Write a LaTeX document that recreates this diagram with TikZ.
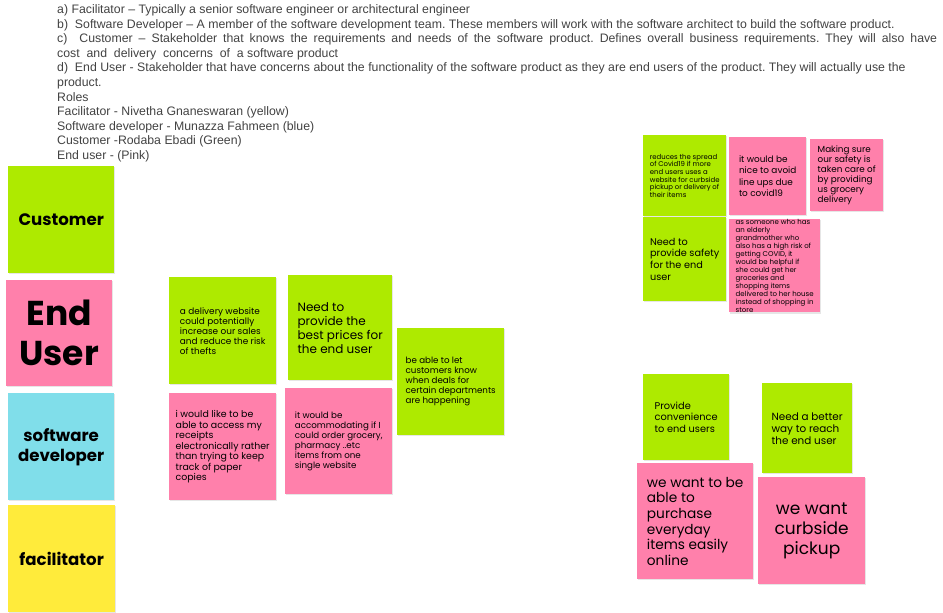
\documentclass[tikz,border=0pt]{standalone}
\usepackage{fontspec}
\setmainfont{Poppins}
\newfontfamily\toptext{Liberation Sans}
\usetikzlibrary{shadows}
\definecolor{notegreen}{HTML}{AEEA00}
\definecolor{notepink}{HTML}{FF80AB}
\definecolor{noteblue}{HTML}{80DEEA}
\definecolor{noteyellow}{HTML}{FFEB3B}
\definecolor{txtgray}{HTML}{424242}
\frenchspacing
\begin{document}
\begin{tikzpicture}[x=1pt, y=-1pt, line join=round,
    note/.style={fill=#1, anchor=north west, inner sep=0pt, align=left,
      drop shadow={shadow xshift=0.6pt, shadow yshift=-1.2pt, opacity=0.2}},
    wh/.style 2 args={minimum width=#1, minimum height=#2},
    fs/.style 2 args={font=\fontsize{#1}{#2}\selectfont},
    bfs/.style 2 args={font=\bfseries\fontsize{#1}{#2}\selectfont}]
  \useasboundingbox (0,0) rectangle (943,613);
  % roles text
  \foreach \t [count=\i] in {a) Facilitator – Typically a senior software engineer or architectural engineer,
      b)\ \ Software Developer – A member of the software development team. These members will work with the software architect to build the software product.,
      {\makebox[880pt][s]{c)\ \ Customer – Stakeholder that knows the requirements and needs of the software product. Defines overall business requirements. They will also have}},
      cost\ \ and\ \ delivery\ \ concerns\ \ of\ \ a software product,
      d)\ \ End User - Stakeholder that have concerns about the functionality of the software product as they are end users of the product. They will actually use the,
      product., Roles, Facilitator - Nivetha Gnaneswaran (yellow), Software developer - Munazza Fahmeen (blue),
      Customer -Rodaba Ebadi (Green), End user - (Pink)}
    \node[anchor=base west, inner sep=0pt, text=txtgray, font=\toptext\fontsize{12.3}{14}\selectfont] (l\i) at (57,{13.5+14.6*(\i-1)}) {\t};
  % role labels
  \node[note=notegreen, wh={106}{107}, align=center, bfs={16.6}{18}] (cust) at (8,166) {Customer};
  \node[note=notepink, wh={106}{106}, align=center, bfs={34.5}{40}] (enduser) at (6,280) {End\\User};
  \node[note=noteblue, wh={106}{107}, align=center, bfs={16.6}{20}] (swdev) at (8,393) {software\\developer};
  \node[note=noteyellow, wh={107}{107}, align=center, bfs={16.6}{18}] (facil) at (8,505) {facilitator};
  % middle group
  \node[note=notegreen, wh={107}{107}, fs={8.9}{10}] (gsales) at (169,277) {a delivery website\\could potentially\\increase our sales\\and reduce the risk\\of thefts};
  \node[note=notegreen, wh={104}{105}, fs={12}{14}] (gprice) at (288,275) {Need to\\provide the\\best prices for\\the end user};
  \node[note=notegreen, wh={107}{107}, fs={8.7}{10}] (gdeals) at (397,328) {be able to let\\customers know\\when deals for\\certain departments\\are happening};
  \node[note=notepink, wh={107}{107}, fs={9.4}{10.5}] (preceipt) at (169,393) {i would like to be\\able to access my\\receipts\\electronically rather\\than trying to keep\\track of paper\\copies};
  \node[note=notepink, wh={107}{106}, fs={8.7}{10}] (pone) at (285,388) {it would be\\accommodating if I\\could order grocery,\\pharmacy ..etc\\items from one\\single website};
  % top right group
  \node[note=notegreen, wh={83}{81}, fs={6.9}{7.6}] (gspread) at (643,135) {reduces the spread\\of Covid19 if more\\end users uses a\\website for curbside\\pickup or delivery of\\their items};
  \node[note=notepink, wh={77}{78}, fs={8.9}{11.5}] (plines) at (729,137) {it would be\\nice to avoid\\line ups due\\to covid19};
  \node[note=notepink, wh={73}{72}, fs={8.8}{10}] (psafe) at (810,139) {Making sure\\our safety is\\taken care of\\by providing\\us grocery\\delivery};
  \node[note=notegreen, wh={83}{84}, fs={9.7}{11.7}] (gsafety) at (643,217) {Need to\\provide safety\\for the end\\user};
  \node[note=notepink, wh={91}{91}, fs={7}{8}] (pgrand) at (729,219) {as someone who has\\an elderly\\grandmother who\\also has a high risk of\\getting COVID, it\\would be helpful if\\she could get her\\groceries and\\shopping items\\delivered to her house\\instead of shopping in\\store};
  % bottom right group
  \node[note=notegreen, wh={86}{86}, fs={9.8}{11.5}] (gconv) at (643,374) {Provide\\convenience\\to end users};
  \node[note=notegreen, wh={90}{90}, fs={10.4}{12}] (greach) at (762,383) {Need a better\\way to reach\\the end user};
  \node[note=notepink, wh={116}{116}, fs={13.7}{15.6}] (ponline) at (637,463) {we want to be\\able to\\purchase\\everyday\\items easily\\online};
  \node[note=notepink, wh={107}{107}, align=center, fs={17}{20}] (pcurb) at (758,477) {we want\\curbside\\pickup};
\end{tikzpicture}
\end{document}
